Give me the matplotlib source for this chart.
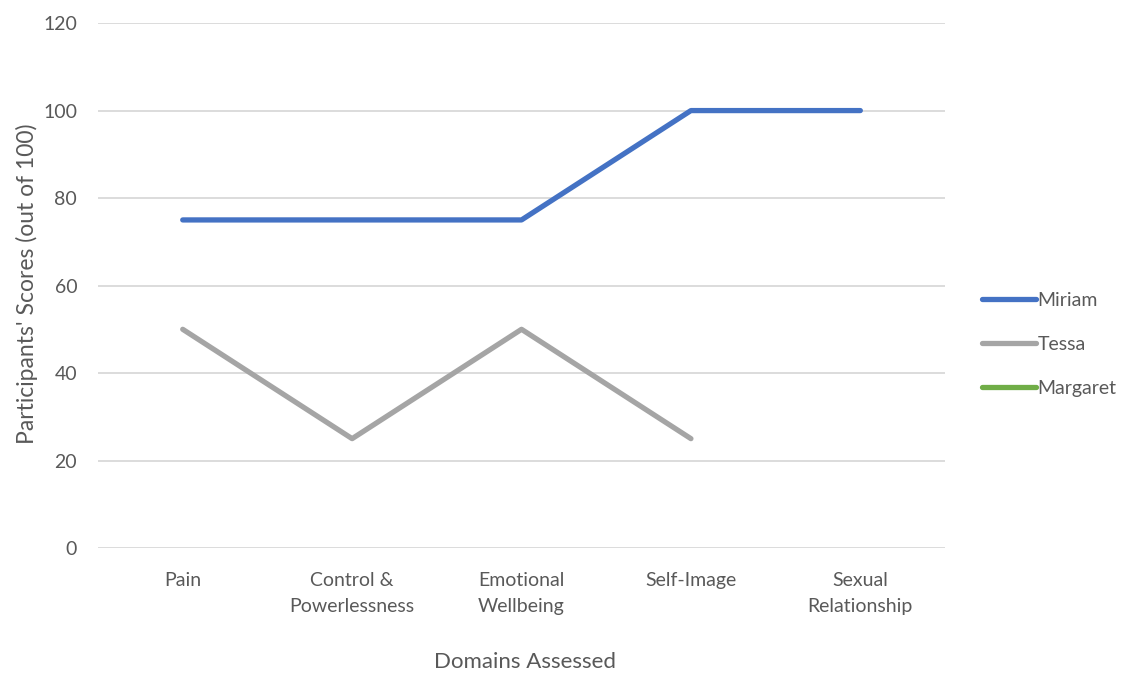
import numpy as np
import matplotlib.pyplot as plt

domains = ["Pain", "Control &\nPowerlessness", "Emotional\nWellbeing", "Self-Image", "Sexual\nRelationship"]
miriam = [75, 75, 75, 100, 100]
tessa = [50, 25, 50, 25, np.nan]
margaret = [np.nan, np.nan, np.nan, np.nan, np.nan]

plt.rcParams['font.family'] = ['Lato', 'DejaVu Sans']
text_color = '#595959'

fig = plt.figure(figsize=(11.28, 6.73), dpi=100)
ax = fig.add_axes([0.0869, 0.1857, 0.7509, 0.780])

x = np.arange(len(domains))
ax.plot(x, miriam, color='#4472C4', lw=3.8, label='Miriam', solid_capstyle='round')
ax.plot(x, tessa, color='#A5A5A5', lw=3.8, label='Tessa', solid_capstyle='round')
ax.plot(x, margaret, color='#70AD47', lw=3.8, label='Margaret', solid_capstyle='round')

ax.set_xlim(-0.5, len(domains) - 0.5)
ax.set_ylim(0, 120)
ax.set_yticks(range(0, 121, 20))
ax.set_xticks(x)
ax.set_xticklabels(domains, fontsize=14, color=text_color, linespacing=1.65)
ax.tick_params(axis='y', labelsize=14, labelcolor=text_color, length=0, pad=15)
ax.tick_params(axis='x', length=0, pad=17)
ax.grid(axis='y', color='#D9D9D9', lw=1.3)
ax.set_axisbelow(True)
for s in ax.spines.values():
    s.set_visible(False)

# axis titles placed in figure coordinates
fig.text(27 / 1128, 1 - 284 / 673, "Participants' Scores (out of 100)", fontsize=16.5, color=text_color,
         rotation=90, ha='center', va='center')
fig.text(525 / 1128, 1 - 662 / 673, "Domains Assessed", fontsize=16, color=text_color, ha='center', va='center')

leg = ax.legend(loc='center left', bbox_to_anchor=(1.044, 0.388), frameon=False, fontsize=14,
                borderpad=0, borderaxespad=0,
                handlelength=2.75, handletextpad=0.1, labelspacing=1.38)
for t in leg.get_texts():
    t.set_color(text_color)

fig.savefig('out.png', dpi=100)
